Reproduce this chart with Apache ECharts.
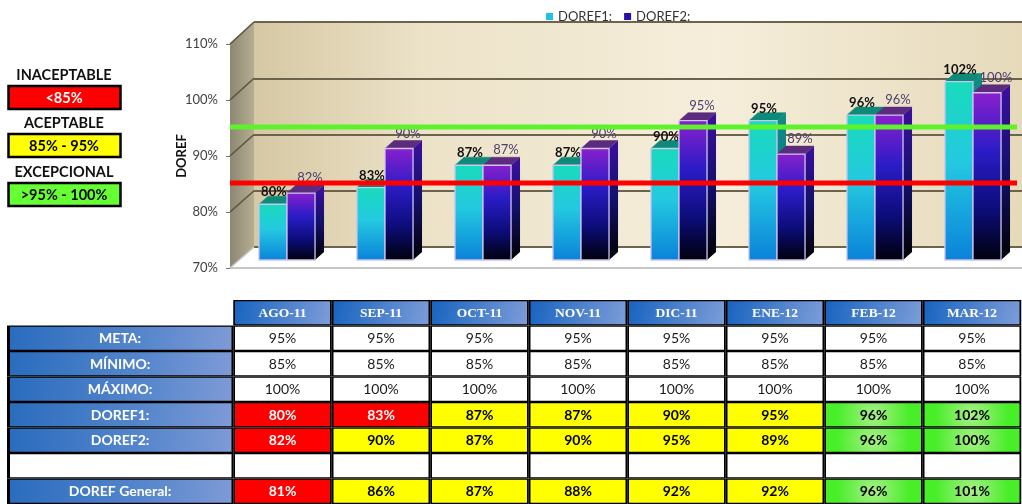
<!DOCTYPE html>
<html>
<head>
<meta charset="utf-8">
<script src="https://cdn.jsdelivr.net/npm/echarts@6/dist/echarts.min.js"></script>
<style>
  html, body { margin: 0; padding: 0; background: #ffffff; }
  #chart { width: 1022px; height: 504px; }
</style>
</head>
<body>
<div id="chart"></div>
<script>
// ---- data ----
const months = ['AGO-11', 'SEP-11', 'OCT-11', 'NOV-11', 'DIC-11', 'ENE-12', 'FEB-12', 'MAR-12'];
const meta = [95, 95, 95, 95, 95, 95, 95, 95];
const minimo = [85, 85, 85, 85, 85, 85, 85, 85];
const maximo = [100, 100, 100, 100, 100, 100, 100, 100];
const doref1 = [80, 83, 87, 87, 90, 95, 96, 102];
const doref2 = [82, 90, 87, 90, 95, 89, 96, 100];
const dorefGeneral = [81, 86, 87, 88, 92, 92, 96, 101];
const seriesNames = ['DOREF1:', 'DOREF2:'];
const rowLabels = ['META:', 'MÍNIMO:', 'MÁXIMO:', 'DOREF1:', 'DOREF2:', '', 'DOREF General:'];
const rowValues = [meta, minimo, maximo, doref1, doref2, null, dorefGeneral];
const ratedRows = [3, 4, 6];              // rows coloured by rating band
const axisRange = { min: 70, max: 110, step: 10 };
const bandNames = ['INACEPTABLE', 'ACEPTABLE', 'EXCEPCIONAL'];
const bandRanges = ['<85%', '85% - 95%', '>95% - 100%'];

// ---- layout ----
const FRONT_LEFT = 230;   // front edge of the 3-D plot box
const WALL_LEFT = 254;    // back wall left edge
const FONT = 'Lato, "Open Sans", sans-serif';

const chart = echarts.init(document.getElementById('chart'), null, { renderer: 'canvas' });

function rating(v) {
  if (v < 85) return { fill: '#ff0000', text: '#ffffff' };
  if (v <= 95) return { fill: '#ffff00', text: '#000000' };
  return {
    fill: { type: 'radial', x: 0.5, y: 0.5, r: 1.6,
      colorStops: [{ offset: 0, color: '#a8f088' }, { offset: 1, color: '#48ee28' }] },
    text: '#000000'
  };
}

// 3-D column: front face, top face and right side face
function bar3d(side, pal, label) {
  const DX = 9, DY = -8;
  return function (params, api) {
    const idx = api.value(0), v = api.value(1);
    const top = api.coord([idx, v]);
    const base = api.coord([idx, axisRange.min]);
    const band = api.size([1, 0])[0];
    const w = band * 0.286;
    const x0 = side < 0 ? top[0] - w : top[0];
    const x1 = x0 + w;
    const yT = top[1], yB = base[1];
    return {
      type: 'group',
      children: [
        { type: 'polygon', shape: { points: [[x1, yT], [x1 + DX, yT + DY], [x1 + DX, yB + DY], [x1, yB]] },
          style: { fill: { type: 'linear', x: 0, y: 0, x2: 0, y2: 1, colorStops: pal.side } } },
        { type: 'polygon', shape: { points: [[x0, yT], [x1, yT], [x1 + DX, yT + DY], [x0 + DX, yT + DY]] },
          style: { fill: pal.top, stroke: pal.top, lineWidth: 0.5 } },
        { type: 'rect', shape: { x: x0, y: yT, width: w, height: yB - yT },
          style: { fill: { type: 'linear', x: 0, y: 0, x2: 0, y2: 1, colorStops: pal.front },
                   stroke: '#cdc4f0', lineWidth: 1.3 } },
        { type: 'text', style: { text: v + '%', x: x0 + w / 2 + label.dx, y: yT + label.dy,
            align: 'center', verticalAlign: 'middle', fontFamily: FONT, fontSize: 13,
            fontWeight: label.weight, fill: label.color } }
      ]
    };
  };
}

const pal1 = {
  front: [{ offset: 0, color: '#18dbbb' }, { offset: 0.45, color: '#24c9e0' }, { offset: 1, color: '#0a82da' }],
  top: '#0e8b78',
  side: [{ offset: 0, color: '#0f8f82' }, { offset: 1, color: '#0a5a98' }]
};
const pal2 = {
  front: [{ offset: 0, color: '#8a20cc' }, { offset: 0.35, color: '#2a1cc6' }, { offset: 0.7, color: '#0c0c78' }, { offset: 1, color: '#00000a' }],
  top: '#5b2b7e',
  side: [{ offset: 0, color: '#3c10a0' }, { offset: 0.5, color: '#12106a' }, { offset: 1, color: '#000000' }]
};

// table cells
const cells = [];
months.forEach((m, c) => cells.push({ col: c, row: 0, text: m, kind: 'head' }));
rowValues.forEach((vals, r) => {
  months.forEach((m, c) => {
    if (!vals) { cells.push({ col: c, row: r + 1, text: '', kind: 'blank' }); return; }
    const v = vals[c];
    cells.push({ col: c, row: r + 1, text: v + '%', kind: ratedRows.includes(r) ? 'rated' : 'plain', value: v });
  });
});
const labelCells = rowLabels.map((t, r) => ({ row: r + 1, text: t }));

function renderCell(params, api) {
  const cell = cells[params.dataIndex];
  const p = api.coord([cell.col, cell.row]);
  const s = api.size([1, 1]);
  const x0 = p[0] - s[0] / 2, y0 = p[1] - s[1] / 2;
  let fill = '#ffffff', color = '#1a1a1a', weight = 'normal', family = FONT, size = 14;
  if (cell.kind === 'head') {
    fill = { type: 'linear', x: 0, y: 0, x2: 1, y2: 1,
      colorStops: [{ offset: 0, color: '#1864c0' }, { offset: 1, color: '#7c9cd8' }] };
    color = '#ffffff'; weight = 'bold'; family = '"Liberation Serif", "DejaVu Serif", serif'; size = 13.5;
  } else if (cell.kind === 'rated') {
    const rt = rating(cell.value);
    fill = rt.fill; color = rt.text; weight = 'bold';
  }
  return {
    type: 'group',
    children: [
      { type: 'rect', shape: { x: x0, y: y0, width: s[0], height: s[1] }, style: { fill: '#000000' } },
      { type: 'rect', shape: { x: x0 + 1.75, y: y0 + 1.3, width: s[0] - 3.5, height: s[1] - 2.6 }, style: { fill } },
      { type: 'text', style: { text: cell.text, x: p[0], y: p[1] + 0.5, align: 'center', verticalAlign: 'middle',
          fontFamily: family, fontSize: size, fontWeight: weight, fill: color } }
    ]
  };
}

function renderLabelCell(params, api) {
  const cell = labelCells[params.dataIndex];
  const p = api.coord([0, cell.row]);
  const s = api.size([1, 1]);
  const xr = params.coordSys.x;
  const xl = 7;
  const y0 = p[1] - s[1] / 2;
  const blue = { type: 'linear', x: 0, y: 0, x2: 1, y2: 1,
    colorStops: [{ offset: 0, color: '#2a6cbe' }, { offset: 0.6, color: '#5686cc' }, { offset: 1, color: '#7e9ad6' }] };
  return {
    type: 'group',
    children: [
      { type: 'rect', shape: { x: xl, y: y0, width: xr - xl, height: s[1] }, style: { fill: '#000000' } },
      { type: 'rect', shape: { x: xl + 3, y: y0 + 1.3, width: xr - xl - 4.75, height: s[1] - 2.6 },
        style: { fill: cell.text ? blue : '#ffffff' } },
      { type: 'text', style: { text: cell.text, x: (xl + xr) / 2, y: p[1] + 0.5, align: 'center', verticalAlign: 'middle',
          fontFamily: FONT, fontSize: 14, fontWeight: 'bold', fill: '#ffffff' } }
    ]
  };
}

const valueAxis = { type: 'value', min: axisRange.min, max: axisRange.max, interval: axisRange.step };

const option = {
  animation: false,
  textStyle: { fontFamily: FONT },
  legend: {
    data: seriesNames, left: 541, top: 5, icon: 'rect', itemWidth: 7, itemHeight: 7, itemGap: 12,
    textStyle: { fontSize: 13, color: '#333333', fontFamily: FONT }, selectedMode: false
  },
  grid: [
    { left: WALL_LEFT, top: 22, right: 0, height: 225, show: true, borderWidth: 0,
      backgroundColor: { type: 'linear', x: 0, y: 0, x2: 1, y2: 0,
        colorStops: [{ offset: 0, color: '#d6c8a3' }, { offset: 0.22, color: '#ece2c8' },
                     { offset: 0.6, color: '#f6eedb' }, { offset: 1, color: '#e6dabb' }] } },
    { left: FRONT_LEFT, top: 44, width: 796, height: 224 },
    { left: FRONT_LEFT, top: 43, width: 787, height: 224 },
    { left: FRONT_LEFT + 8, top: 37, width: 796, height: 223 },
    { left: 233.25, top: 300, width: 788, height: 205 }
  ],
  xAxis: [
    { gridIndex: 0, type: 'category', data: months, show: false },
    { gridIndex: 1, type: 'category', data: months,
      axisLine: { lineStyle: { color: '#c6c6c6', width: 2 } },
      axisTick: { length: 4, lineStyle: { color: '#9a9a9a' } }, axisLabel: { show: false } },
    { gridIndex: 2, type: 'category', data: months, boundaryGap: false, show: false },
    { gridIndex: 3, type: 'category', data: months, show: false },
    { gridIndex: 4, type: 'category', data: months, show: false }
  ],
  yAxis: [
    Object.assign({ gridIndex: 0 }, valueAxis, {
      axisLabel: { show: false }, axisLine: { show: false }, axisTick: { show: false },
      splitLine: { lineStyle: { color: '#6c634e', width: 2 } } }),
    Object.assign({ gridIndex: 1 }, valueAxis, {
      name: 'DOREF', nameLocation: 'middle', nameRotate: 90, nameGap: 42, nameMoveOverlap: false,
      nameTextStyle: { fontWeight: 'bold', fontSize: 13, color: '#111111', fontFamily: FONT },
      axisLine: { show: false }, axisTick: { show: true, length: 4, lineStyle: { color: '#777777' } },
      axisLabel: { formatter: '{value}%', margin: 12, fontSize: 13, color: '#404040', fontFamily: FONT },
      splitLine: { show: false } }),
    Object.assign({ gridIndex: 2 }, valueAxis, { show: false, splitLine: { show: false } }),
    Object.assign({ gridIndex: 3 }, valueAxis, { show: false, splitLine: { show: false } }),
    { gridIndex: 4, type: 'category', data: [0, 1, 2, 3, 4, 5, 6, 7], inverse: true, show: false }
  ],
  series: [
    { name: seriesNames[0], type: 'custom', xAxisIndex: 3, yAxisIndex: 3, z: 3,
      itemStyle: { color: '#1fc3e6' },
      data: doref1.map((v, i) => [i, v]),
      renderItem: bar3d(-1, pal1, { dx: 1, dy: -12, weight: 'bold', color: '#111111' }) },
    { name: seriesNames[1], type: 'custom', xAxisIndex: 3, yAxisIndex: 3, z: 3,
      itemStyle: { color: '#2a10a8' },
      data: doref2.map((v, i) => [i, v]),
      renderItem: bar3d(1, pal2, { dx: 9, dy: -15, weight: 'normal', color: '#4b4070' }) },
    { name: 'MÍNIMO', type: 'line', xAxisIndex: 2, yAxisIndex: 2, z: 6, data: minimo,
      symbol: 'none', silent: true, lineStyle: { color: '#ff0000', width: 5 } },
    { name: 'META', type: 'line', xAxisIndex: 2, yAxisIndex: 2, z: 6, data: meta,
      symbol: 'none', silent: true, lineStyle: { color: '#5ff22c', width: 5 } },
    { type: 'custom', xAxisIndex: 4, yAxisIndex: 4, z: 2, silent: true,
      data: cells.map(c => [c.col, c.row]), renderItem: renderCell },
    { type: 'custom', xAxisIndex: 4, yAxisIndex: 4, z: 2, silent: true,
      data: labelCells.map(c => [0, c.row]), renderItem: renderLabelCell }
  ]
};
chart.setOption(option);

// side wall, its grid lines and the rating key
const yF = v => chart.convertToPixel({ yAxisIndex: 1 }, v);
const yB = v => chart.convertToPixel({ yAxisIndex: 0 }, v);
const graphics = [];
graphics.push({
  type: 'polygon', z: 1, silent: true,
  shape: { points: [[FRONT_LEFT, yF(axisRange.max)], [WALL_LEFT, yB(axisRange.max)],
                    [WALL_LEFT, yB(axisRange.min)], [FRONT_LEFT, yF(axisRange.min)]] },
  style: { fill: { type: 'linear', x: 0, y: 0, x2: 1, y2: 0,
    colorStops: [{ offset: 0, color: '#8b8770' }, { offset: 1, color: '#b6ae92' }] } }
});
for (let v = axisRange.min; v <= axisRange.max; v += axisRange.step) {
  graphics.push({
    type: 'line', z: 1, silent: true,
    shape: { x1: FRONT_LEFT, y1: yF(v), x2: WALL_LEFT, y2: yB(v) },
    style: { stroke: v === axisRange.min ? '#c6c6c6' : '#5c5442', lineWidth: 1.6 }
  });
}
const keyColors = ['#ff0000', '#ffff00', '#66ff33'];
const keyText = ['#ffffff', '#000000', '#000000'];
const keyTop = [75, 123, 172];
bandNames.forEach((name, i) => {
  graphics.push({ type: 'text', silent: true, style: { text: name, x: 64, y: keyTop[i], align: 'center',
    verticalAlign: 'middle', fontFamily: FONT, fontSize: 14.5, fontWeight: 'bold', fill: '#111111' } });
  graphics.push({ type: 'rect', silent: true, shape: { x: 8.5, y: keyTop[i] + 11, width: 112, height: 23 },
    style: { fill: keyColors[i], stroke: '#000000', lineWidth: 2.5 } });
  graphics.push({ type: 'text', silent: true, style: { text: bandRanges[i], x: 64, y: keyTop[i] + 23, align: 'center',
    verticalAlign: 'middle', fontFamily: FONT, fontSize: 14.5, fontWeight: 'bold', fill: keyText[i] } });
});
chart.setOption({ graphic: graphics });
</script>
</body>
</html>
